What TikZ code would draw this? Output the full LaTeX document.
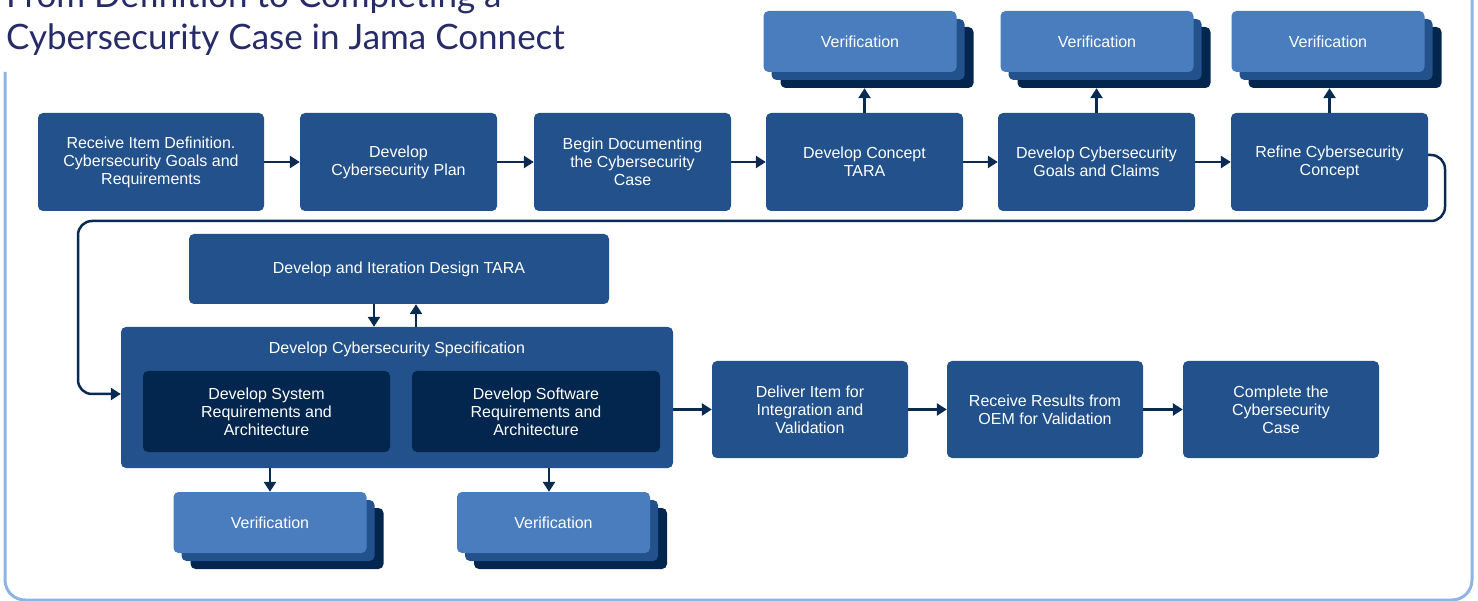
\documentclass[tikz,border=0pt]{standalone}
\usepackage{fontspec}
\setmainfont{Liberation Sans}
\newfontfamily\titlefont{Lato}
\usetikzlibrary{arrows.meta,positioning}
\definecolor{boxblue}{HTML}{22518C}
\definecolor{navy}{HTML}{03264F}
\definecolor{lightblue}{HTML}{4A7DBE}
\definecolor{arrowblue}{HTML}{0A2A52}
\definecolor{frameblue}{HTML}{8EB4E3}
\definecolor{titleblue}{HTML}{272C68}

\begin{document}
\begin{tikzpicture}[x=1pt,y=-1pt]
\tikzset{
  stepbox/.style={fill=boxblue, rounded corners=5pt, text=white, align=center, inner sep=0pt,
    font=\fontsize{16}{18}\selectfont, minimum width=197pt, minimum height=98pt},
  innerbox/.style={stepbox, fill=navy, minimum width=247pt, minimum height=81pt},
  verfront/.style={stepbox, fill=lightblue, minimum width=193pt, minimum height=61pt},
  vermid/.style={verfront, fill=boxblue},
  verback/.style={verfront, fill=navy},
  arr/.style={draw=arrowblue, line width=2.5pt, -{Triangle[length=10pt,width=12pt]}}
}
\useasboundingbox (0,0) rectangle (1478,601);
% frame and title
\draw [frameblue, line width=3pt, rounded corners=20pt] (5,72) -- (5,600) -- (1472,600) -- (1472,-10);
\node [anchor=base west, inner sep=0pt, text=titleblue, font=\titlefont\fontsize{35}{42}\selectfont] (title1) at (6,8) {From Definition to Completing a};
\node [anchor=base west, inner sep=0pt, text=titleblue, font=\titlefont\fontsize{35}{42}\selectfont] (title2) at (6,50) {Cybersecurity Case in Jama Connect};
% first row
\node [stepbox, minimum width=226pt] (recv) at (151,162) {Receive Item Definition.\\Cybersecurity Goals and\\Requirements};
\node [stepbox] (plan) at (398.5,162) {Develop\\Cybersecurity Plan};
\node [stepbox] (docu) at (632.5,162) {Begin Documenting\\the Cybersecurity\\Case};
\node [stepbox] (ctara) at (864.5,162) {Develop Concept\\TARA};
\node [stepbox] (goals) at (1096.5,162) {Develop Cybersecurity\\Goals and Claims};
\node [stepbox] (refine) at (1329.5,162) {Refine Cybersecurity\\Concept};
% verification stacks, first row
\node [verback] (ver1c) at (877,57.5) {};
\node [vermid] (ver1b) at (868,49.5) {};
\node [verfront] (ver1) at (860,41.5) {Verification};
\node [verback] (ver2c) at (1114,57.5) {};
\node [vermid] (ver2b) at (1105,49.5) {};
\node [verfront] (ver2) at (1097,41.5) {Verification};
\node [verback] (ver3c) at (1345,57.5) {};
\node [vermid] (ver3b) at (1336,49.5) {};
\node [verfront] (ver3) at (1328,41.5) {Verification};
% second row
\node [stepbox, minimum width=420pt, minimum height=70pt] (dtara) at (399,269) {Develop and Iteration Design TARA};
\node [stepbox, minimum width=552pt, minimum height=141pt] (spec) at (397,397.5) {};
\node [text=white, font=\fontsize{16}{18}\selectfont, inner sep=0pt] (speclbl) at (397,349) {Develop Cybersecurity Specification};
\node [innerbox] (sysreq) at (266.5,411.5) {Develop System\\Requirements and\\Architecture};
\node [innerbox, minimum width=248pt] (swreq) at (536,411.5) {Develop Software\\Requirements and\\Architecture};
\node [stepbox, minimum width=196pt, minimum height=97pt] (deliv) at (810,409.5) {Deliver Item for\\Integration and\\Validation};
\node [stepbox, minimum width=196pt, minimum height=97pt] (oem) at (1045,409.5) {Receive Results from\\OEM for Validation};
\node [stepbox, minimum width=196pt, minimum height=97pt] (done) at (1281,409.5) {Complete the\\Cybersecurity\\Case};
% verification stacks, second row
\node [verback] (ver4c) at (287,538.5) {};
\node [vermid] (ver4b) at (278,530.5) {};
\node [verfront] (ver4) at (270,522.5) {Verification};
\node [verback] (ver5c) at (570.5,538.5) {};
\node [vermid] (ver5b) at (561.5,530.5) {};
\node [verfront] (ver5) at (553.5,522.5) {Verification};
% connectors
\draw [arr] (recv) -- (plan);
\draw [arr] (plan) -- (docu);
\draw [arr] (docu) -- (ctara);
\draw [arr] (ctara) -- (goals);
\draw [arr] (goals) -- (refine);
\draw [arr] (ctara.north) -- (ctara.north |- ver1c.south);
\draw [arr] (goals.north) -- (goals.north |- ver2c.south);
\draw [arr] (refine.north) -- (refine.north |- ver3c.south);
\coordinate (loopa) at (1445,155);
\coordinate (loopb) at (1445,221);
\coordinate (loopc) at (78,221);
\coordinate (loopd) at (78,394);
\draw [arr, rounded corners=14pt] (refine.east |- loopa) -- (loopa) -- (loopb) -- (loopc) -- (loopd) -- (loopd -| spec.west);
\draw [arr] (dtara.south -| 374,0) -- (spec.north -| 374,0);
\draw [arr] (spec.north -| 416,0) -- (dtara.south -| 416,0);
\draw [arr] (deliv.west -| spec.east) -- (deliv.west);
\draw [arr] (deliv) -- (oem);
\draw [arr] (oem) -- (done);
\draw [arr] (spec.south -| ver4.north) -- (ver4.north);
\draw [arr] (spec.south -| 549,0) -- (ver5.north -| 549,0);
\end{tikzpicture}
\end{document}
